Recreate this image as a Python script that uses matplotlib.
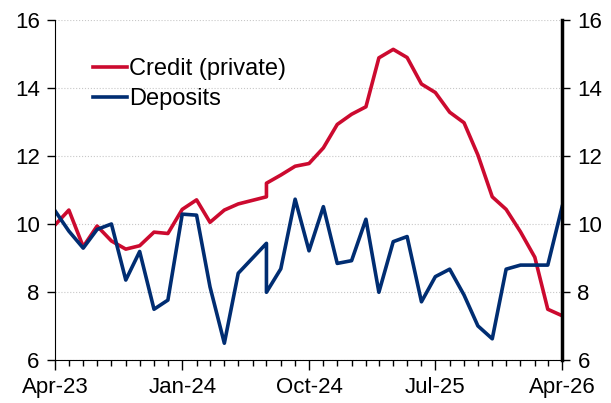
import matplotlib
matplotlib.use("Agg")
import matplotlib.pyplot as plt
import matplotlib.dates as mdates
import pandas as pd

plt.rcParams['font.family'] = ['Liberation Sans', 'DejaVu Sans']

# month offsets from Apr-23 (Jul-24 appears twice: series break)
months = [0, 1, 2, 3, 4, 5, 6, 7, 8, 9, 10, 11, 12, 13, 15, 15, 16, 17, 18, 19,
          20, 21, 22, 23, 24, 25, 26, 27, 28, 29, 30, 31, 32, 33, 34, 35, 36]
credit = [9.97, 10.41, 9.33, 9.94, 9.5, 9.26, 9.36, 9.76, 9.72, 10.43, 10.71,
          10.05, 10.41, 10.59, 10.8, 11.2, 11.44, 11.7, 11.78, 12.24, 12.93,
          13.23, 13.45, 14.89, 15.14, 14.9, 14.12, 13.87, 13.29, 12.98, 12.03,
          10.8, 10.43, 9.77, 9.02, 7.49, 7.3]
deposits = [10.39, 9.79, 9.29, 9.84, 10.0, 8.35, 9.19, 7.49, 7.76, 10.29, 10.26,
            8.15, 6.49, 8.55, 9.43, 7.99, 8.68, 10.73, 9.21, 10.51, 8.84, 8.92,
            10.14, 7.99, 9.48, 9.63, 7.71, 8.45, 8.67, 7.91, 7.0, 6.62, 8.67,
            8.79, 8.79, 8.79, 10.51]

start = pd.Timestamp("2023-04-01")
dates = [start + pd.DateOffset(months=m) for m in months]

red = "#cc0a2f"
blue = "#002d72"

fig = plt.figure(figsize=(6.11, 4.03), dpi=100)
ax = fig.add_axes([0.09, 0.107, 0.83, 0.843])

ax.plot(dates, credit, color=red, lw=2.6, label="Credit (private)")
ax.plot(dates, deposits, color=blue, lw=2.6, label="Deposits")

ax.set_ylim(6, 16)
ax.set_yticks([6, 8, 10, 12, 14, 16])
ax.set_xlim(start, start + pd.DateOffset(months=36))
ax.grid(axis='y', color='#c8c8c8', ls=':', lw=0.8)
ax.set_axisbelow(True)

ticks = [start + pd.DateOffset(months=m) for m in range(0, 37, 9)]
ax.set_xticks(ticks)
ax.xaxis.set_major_formatter(mdates.DateFormatter("%b-%y"))
ax.xaxis.set_minor_locator(mdates.MonthLocator())

ax.spines['top'].set_visible(False)
ax.spines['right'].set_linewidth(2.5)
ax.tick_params(axis='x', which='major', length=7, width=1, labelsize=16, pad=5)
ax.tick_params(axis='x', which='minor', length=4, width=1)
ax.tick_params(axis='y', length=6, width=1, labelsize=16, labelright=True, right=True, pad=5)

leg = ax.legend(loc='upper left', bbox_to_anchor=(0.074, 0.888), frameon=False,
                fontsize=17, handlelength=1.45, handletextpad=0.1, labelspacing=0.33,
                borderaxespad=0, borderpad=0)

fig.savefig("out.png", dpi=100)
